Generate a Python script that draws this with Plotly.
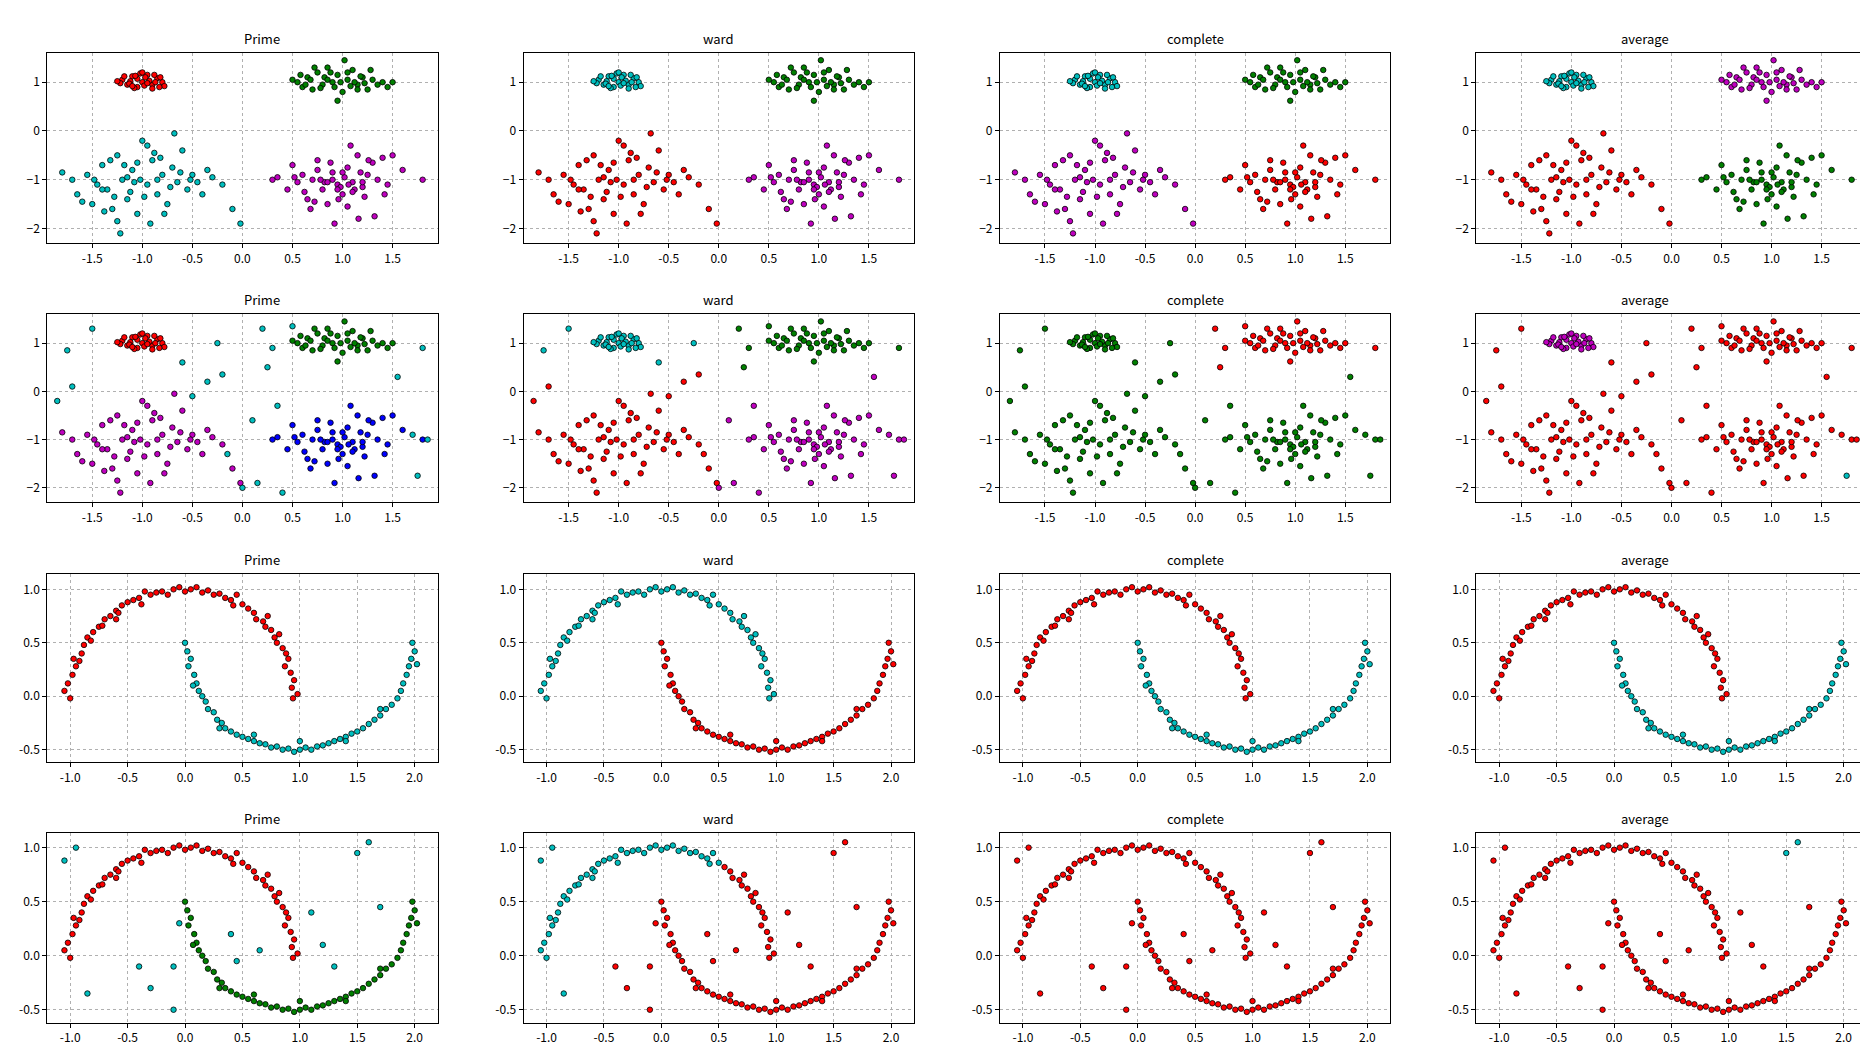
import plotly.graph_objects as go
from plotly.subplots import make_subplots

# ---- blobs data ----
xA=[-1.2,-1.15,-1.1,-1.05,-1.0,-0.95,-0.9,-0.85,-0.8,-0.78,-1.18,-1.12,-1.08,-1.02,-0.98,-0.93,-0.88,-0.83,-1.22,-1.05,-0.97,-0.9,-1.13,-1.0,-0.87,-1.25,-0.95,-1.07,-0.82,-1.1]
yA=[1.05,0.95,1.12,0.9,1.0,1.15,0.95,1.08,1.0,0.92,1.12,1.02,0.88,1.18,0.93,1.03,1.15,0.9,0.98,1.07,1.1,0.87,0.97,1.2,1.0,1.02,0.98,1.13,1.1,0.92]
xB=[0.55,0.6,0.65,0.7,0.75,0.8,0.85,0.9,0.95,1.0,1.05,1.1,1.15,1.2,1.25,1.3,1.35,1.45,0.58,0.68,0.78,0.88,0.98,1.08,1.18,1.28,1.4,0.72,0.82,0.92,1.02,1.12,1.22,0.63,0.95,1.05,0.85,1.15,1.5,0.5]
yB=[1.0,0.9,1.1,0.85,1.2,0.95,1.3,1.0,1.15,0.8,1.05,1.25,0.95,1.1,0.85,1.05,0.95,0.9,1.15,1.05,0.88,1.2,1.0,0.92,1.12,1.25,1.0,1.3,1.1,0.9,1.45,1.0,0.98,0.95,0.62,1.2,1.05,0.85,1.0,1.05]
xC=[-1.8,-1.7,-1.65,-1.55,-1.5,-1.45,-1.4,-1.35,-1.3,-1.25,-1.2,-1.15,-1.1,-1.05,-1.0,-0.95,-0.9,-0.85,-0.8,-0.75,-0.7,-0.65,-0.6,-0.55,-0.5,-0.45,-0.4,-0.3,-0.2,-0.1,-1.6,-1.38,-1.22,-1.12,-1.02,-0.92,-0.82,-0.72,-0.62,-1.28,-1.18,-1.08,-0.98,-0.88,-0.78,-1.48,-1.32,-0.68,-0.52,-1.25,-1.05,-0.85,-1.15,-0.95,-1.4,-0.35,-0.02]
yC=[-0.85,-1.0,-1.3,-0.9,-1.5,-1.1,-0.7,-1.2,-1.6,-0.5,-1.0,-1.4,-0.8,-1.7,-0.2,-1.1,-0.6,-1.3,-0.9,-1.5,-0.75,-1.05,-0.4,-1.2,-0.9,-1.05,-1.3,-0.95,-1.1,-1.6,-1.45,-1.65,-2.1,-1.25,-1.0,-1.9,-0.55,-1.15,-0.85,-1.35,-0.7,-1.05,-1.35,-0.45,-1.7,-1.0,-0.6,-0.05,-1.0,-1.85,-0.65,-1.0,-0.95,-0.3,-1.2,-0.8,-1.9]
xD=[0.3,0.35,0.45,0.5,0.55,0.6,0.65,0.7,0.75,0.8,0.85,0.9,0.95,1.0,1.05,1.1,1.15,1.2,1.25,1.3,1.35,1.4,1.45,1.5,1.6,1.8,0.62,0.72,0.82,0.92,1.02,1.12,1.22,1.32,0.78,0.88,0.98,1.08,1.18,0.68,0.96,1.06,1.16,1.26,0.52,1.42,0.85,1.0,1.1,0.75,1.2,0.9,1.05,0.95]
yD=[-1.0,-0.95,-1.2,-0.7,-1.05,-0.9,-1.4,-1.0,-0.6,-1.2,-1.5,-0.85,-1.1,-1.3,-0.75,-1.05,-0.5,-1.15,-0.9,-0.65,-1.0,-0.55,-1.1,-0.5,-0.8,-1.0,-1.25,-1.45,-1.05,-1.9,-0.95,-1.2,-1.35,-1.75,-1.0,-0.65,-1.15,-0.3,-0.85,-1.6,-1.4,-1.1,-1.8,-0.6,-0.95,-1.3,-1.05,-0.85,-1.25,-0.8,-1.05,-1.0,-1.55,-1.2]
xN=[-1.75,-1.7,-1.5,-0.5,-0.25,-0.2,-0.15,0.0,0.2,0.25,0.3,0.35,1.8,1.75,-1.85,0.1,1.55,0.5,-0.6,1.85,0.4,0.15,-0.35,1.7]
yN=[0.85,0.1,1.3,-0.1,1.0,0.35,-1.3,-2.0,1.3,0.5,0.9,-0.3,0.9,-1.75,-0.2,-0.6,0.3,1.35,0.6,-1.0,-2.1,-1.9,0.2,-0.9]

# ---- moons data ----
xU=[-1.05,-1.0,-1.02,-0.98,-0.95,-0.97,-0.9,-0.92,-0.88,-0.85,-0.8,-0.82,-0.75,-0.7,-0.72,-0.65,-0.6,-0.55,-0.58,-0.5,-0.45,-0.4,-0.38,-0.3,-0.25,-0.2,-0.15,-0.1,-0.05,0.0,0.05,0.1,0.15,0.2,0.25,0.3,0.35,0.4,0.42,0.5,0.55,0.6,0.62,0.68,0.7,0.75,0.78,0.8,0.82,0.85,0.88,0.9,0.87,0.92,0.95,0.93,0.98,0.94,-0.6,0.45,-0.35,0.72]
yU=[0.05,-0.02,0.12,0.2,0.28,0.35,0.4,0.33,0.48,0.55,0.6,0.52,0.65,0.72,0.66,0.75,0.8,0.85,0.78,0.88,0.9,0.92,0.86,0.95,0.97,0.98,0.95,1.0,1.02,0.98,1.0,1.02,0.97,0.99,0.95,0.96,0.92,0.9,0.85,0.86,0.82,0.78,0.72,0.7,0.65,0.62,0.55,0.5,0.58,0.45,0.4,0.35,0.28,0.22,0.15,0.08,0.02,-0.02,0.72,0.95,0.98,0.75]
xL=[0.0,0.02,0.05,0.03,0.08,0.1,0.12,0.15,0.18,0.2,0.25,0.28,0.32,0.35,0.4,0.45,0.5,0.55,0.6,0.65,0.7,0.75,0.8,0.85,0.9,0.95,1.0,1.05,1.1,1.15,1.2,1.25,1.3,1.35,1.4,1.45,1.5,1.55,1.6,1.65,1.7,1.75,1.8,1.85,1.88,1.9,1.93,1.95,1.97,2.0,1.98,2.02,0.6,1.0,1.4,0.3,1.7,0.07]
yL=[0.5,0.42,0.35,0.28,0.2,0.12,0.05,0.0,-0.05,-0.12,-0.15,-0.22,-0.25,-0.3,-0.33,-0.36,-0.38,-0.4,-0.42,-0.44,-0.45,-0.48,-0.47,-0.5,-0.49,-0.52,-0.5,-0.48,-0.5,-0.47,-0.46,-0.44,-0.42,-0.4,-0.38,-0.35,-0.33,-0.3,-0.26,-0.22,-0.18,-0.12,-0.08,-0.02,0.05,0.12,0.2,0.28,0.35,0.42,0.5,0.3,-0.36,-0.42,-0.42,-0.3,-0.12,0.1]
xM=[-1.05,-0.85,-0.4,-0.3,-0.1,-0.05,0.4,0.45,0.65,1.2,1.3,1.5,1.6,1.7,-0.95,-0.1,1.1]
yM=[0.88,-0.35,-0.1,-0.3,-0.5,0.3,0.2,-0.05,0.05,0.1,-0.1,0.95,1.05,0.45,1.0,-0.1,0.4]

titles=["Prime","ward","complete","average"]
R,G,C,M,B="#FF0000","#008000","#00BFBF","#BF00BF","#0000FF"

def blob_noise(method,x,y):
    if method==0: return C
    if method==1:
        if y>0.4: return C if x<0 else G
        return R if x<0 else M
    if method==2:
        return R if (y>0.4 and x>0) else G
    return C if (x>1.7 and y<-1.5) else R

def moon_noise(method,x,y):
    if method==0: return C
    if method==1: return C if x<-0.5 else R
    if method==2: return R
    return C if y>0.9 and x>1 else R

fig=make_subplots(rows=4,cols=4)
xd=[[0.021,0.230],[0.276,0.485],[0.531,0.740],[0.786,0.995]]
yd=[[0.775,0.957],[0.527,0.707],[0.278,0.458],[0.029,0.211]]

def add(r,c,groups):
    for xs,ys,cols in groups:
        fig.add_trace(go.Scatter(x=xs,y=ys,mode="markers",showlegend=False,
            marker=dict(size=5.5,color=cols,line=dict(color="black",width=0.8))),row=r,col=c)

blobcols=[[R,G,C,M],[C,G,R,M],[C,G,M,R],[C,M,R,G]]
blobcols2=[[R,G,M,B],[C,G,R,M],[G,R,G,G],[M,R,R,R]]
mooncols=[[R,C],[C,R],[R,C],[R,C]]
for m in range(4):
    bc=blobcols[m]
    add(1,m+1,[(xA,yA,bc[0]),(xB,yB,bc[1]),(xC,yC,bc[2]),(xD,yD,bc[3])])
    bc=blobcols2[m]
    add(2,m+1,[(xA,yA,bc[0]),(xB,yB,bc[1]),(xC,yC,bc[2]),(xD,yD,bc[3]),
               (xN,yN,[blob_noise(m,a,b) for a,b in zip(xN,yN)])])
    mc=mooncols[m]
    add(3,m+1,[(xU,yU,mc[0]),(xL,yL,mc[1])])
    if m==0: uc,lc=R,G
    elif m==1: uc=[C if a<0.55 else R for a in xU]; lc=R
    else: uc,lc=R,R
    add(4,m+1,[(xU,yU,uc),(xL,yL,lc),(xM,yM,[moon_noise(m,a,b) for a,b in zip(xM,yM)])])

ax=dict(showline=True,linecolor="black",linewidth=1,mirror=True,showgrid=True,
        gridcolor="#b0b0b0",griddash="dot",gridwidth=0.8,zeroline=False,ticks="outside",
        ticklen=4,tickcolor="black",tickfont=dict(size=12,color="black"))
ann=[]
for r in range(4):
    for c in range(4):
        i=r*4+c+1
        xs="xaxis" if i==1 else f"xaxis{i}"
        ys="yaxis" if i==1 else f"yaxis{i}"
        if r<2:
            xa=dict(range=[-1.95,1.95],tickvals=[-1.5,-1,-0.5,0,0.5,1,1.5],ticktext=["-1.5","-1.0","-0.5","0.0","0.5","1.0","1.5"])
            ya=dict(range=[-2.3,1.6],tickvals=[-2,-1,0,1])
        else:
            xa=dict(range=[-1.2,2.2],tickvals=[-1,-0.5,0,0.5,1,1.5,2],ticktext=["-1.0","-0.5","0.0","0.5","1.0","1.5","2.0"])
            ya=dict(range=[-0.62,1.14],tickvals=[-0.5,0,0.5,1],ticktext=["-0.5","0.0","0.5","1.0"])
        fig.layout[xs].update(domain=xd[c],**ax,**xa)
        fig.layout[ys].update(domain=yd[r],**ax,**ya)
        ann.append(dict(text=titles[c],x=(xd[c][0]+xd[c][1])/2,y=yd[r][1],xref="paper",yref="paper",
                        yanchor="bottom",showarrow=False,yshift=3,font=dict(size=13,color="black")))
fig.update_layout(width=1868,height=1045,plot_bgcolor="white",paper_bgcolor="white",
    margin=dict(l=0,r=0,t=0,b=0),annotations=ann,
    font=dict(family="Noto Sans CJK SC, DejaVu Sans Mono",color="black"))
fig.write_html("out.html")
